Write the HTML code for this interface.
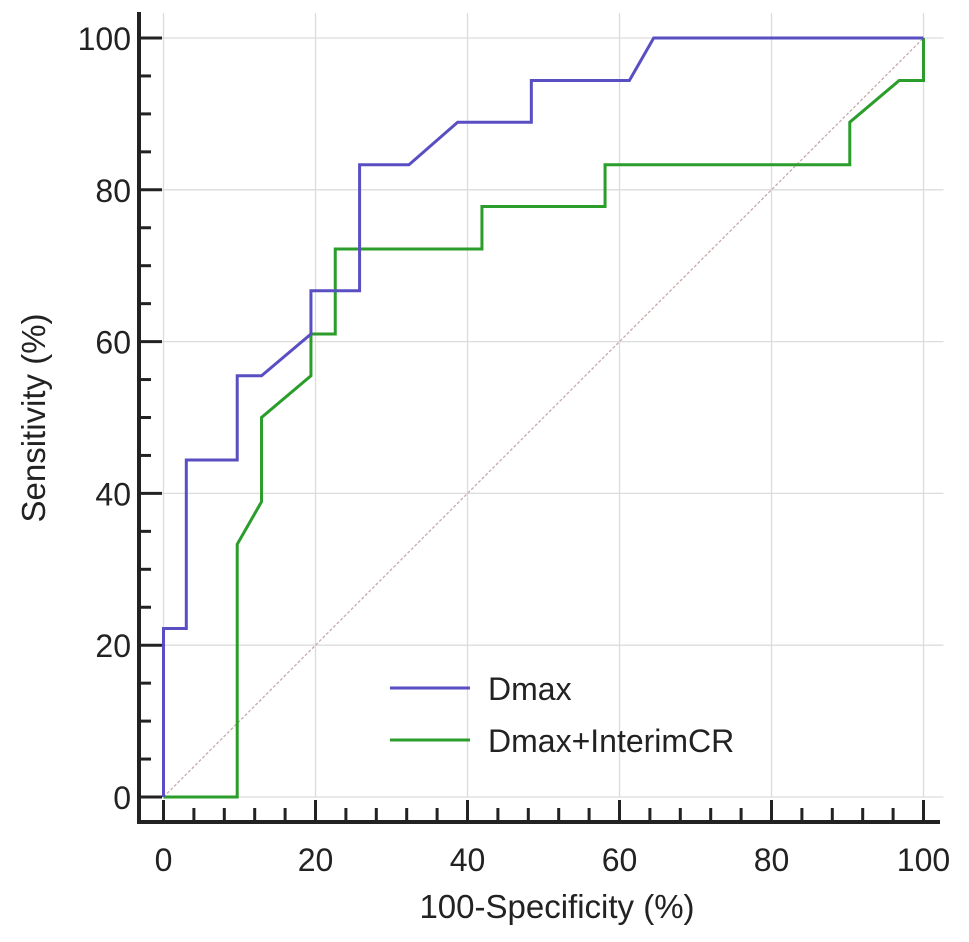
<!DOCTYPE html>
<html><head><meta charset="utf-8"><style>
body{margin:0;background:#fff}
text{font-family:"Liberation Sans",sans-serif;fill:#222}
</style></head><body>
<svg id="chart" width="969" height="937" xmlns="http://www.w3.org/2000/svg"></svg>
<script>
const xTicks=[0,20,40,60,80,100];
const yTicks=[0,20,40,60,80,100];
const dmaxX=[0,0,3,3,9.7,9.7,12.9,19.4,19.4,25.8,25.8,32.3,38.7,48.4,48.4,61.3,64.5,100];
const dmaxY=[0,22.2,22.2,44.4,44.4,55.5,55.5,61,66.7,66.7,83.3,83.3,88.9,88.9,94.4,94.4,100,100];
const comboX=[0,9.7,9.7,12.9,12.9,19.4,19.4,22.6,22.6,41.9,41.9,58.1,58.1,90.3,90.3,96.8,100,100];
const comboY=[0,0,33.3,38.9,50,55.5,61,61,72.2,72.2,77.8,77.8,83.3,83.3,88.9,94.4,94.4,100];
const svg=document.getElementById('chart');
const NS='http://www.w3.org/2000/svg';
const X=v=>163.5+v*7.6, Y=v=>797-v*7.59;
function mk(t,a,p){const e=document.createElementNS(NS,t);for(const k in a)e.setAttribute(k,a[k]);(p||svg).appendChild(e);return e;}
xTicks.forEach(v=>{const l=mk('line',{x1:X(v),x2:X(v),y1:Y(100)-25,y2:Y(0),stroke:'#dcdcdc','stroke-width':1.3});

});
yTicks.forEach(v=>{const l=mk('line',{x1:X(0)-5,x2:X(100)+20,y1:Y(v),y2:Y(v),stroke:'#dcdcdc','stroke-width':1.3});

});
const dg=mk('line',{x1:X(0),y1:Y(0),x2:X(100),y2:Y(100),stroke:'#c9aaaa','stroke-width':1.3,'stroke-dasharray':'3,2'});


const ax=mk('path',{d:`M139,12 V822 H940`,fill:'none',stroke:'#222','stroke-width':4});


for(let v=0;v<=100;v+=4){const maj=v%20===0;mk('line',{x1:X(v),x2:X(v),y1:maj?800:808,y2:822,stroke:'#222','stroke-width':3});}
for(let v=0;v<=100;v+=5){const maj=v%20===0;mk('line',{x1:139,x2:maj?162:151,y1:Y(v),y2:Y(v),stroke:'#222','stroke-width':3});}
xTicks.forEach(v=>{const t=mk('text',{x:X(v),y:871,'font-size':32,'text-anchor':'middle'});t.textContent=v;

});
yTicks.forEach(v=>{const t=mk('text',{x:131,y:Y(v)+12,'font-size':32,'text-anchor':'end'});t.textContent=v;

});
const xt=mk('text',{x:557,y:918,'font-size':33,'text-anchor':'middle'});xt.textContent='100-Specificity (%)';


const yt=mk('text',{x:0,y:0,'font-size':33,'text-anchor':'middle',transform:'translate(45,418) rotate(-90)'});yt.textContent='Sensitivity (%)';


function series(xs,ys,c,name){const d=xs.map((x,i)=>(i?'L':'M')+X(x)+','+Y(ys[i])).join(' ');
const p=mk('path',{d:d,fill:'none',stroke:c,'stroke-width':3,'stroke-linejoin':'miter'});

}
series(comboX,comboY,'#2a9d2a','dmax-interimcr-curve');
series(dmaxX,dmaxY,'#5a4fc2','dmax-curve');
const l1=mk('line',{x1:390,x2:470,y1:688,y2:688,stroke:'#5a4fc2','stroke-width':3});


const t1=mk('text',{x:488,y:700,'font-size':32});t1.textContent='Dmax';


const l2=mk('line',{x1:390,x2:470,y1:740,y2:740,stroke:'#2a9d2a','stroke-width':3});


const t2=mk('text',{x:488,y:752,'font-size':32});t2.textContent='Dmax+InterimCR';


</script>
</body></html>
